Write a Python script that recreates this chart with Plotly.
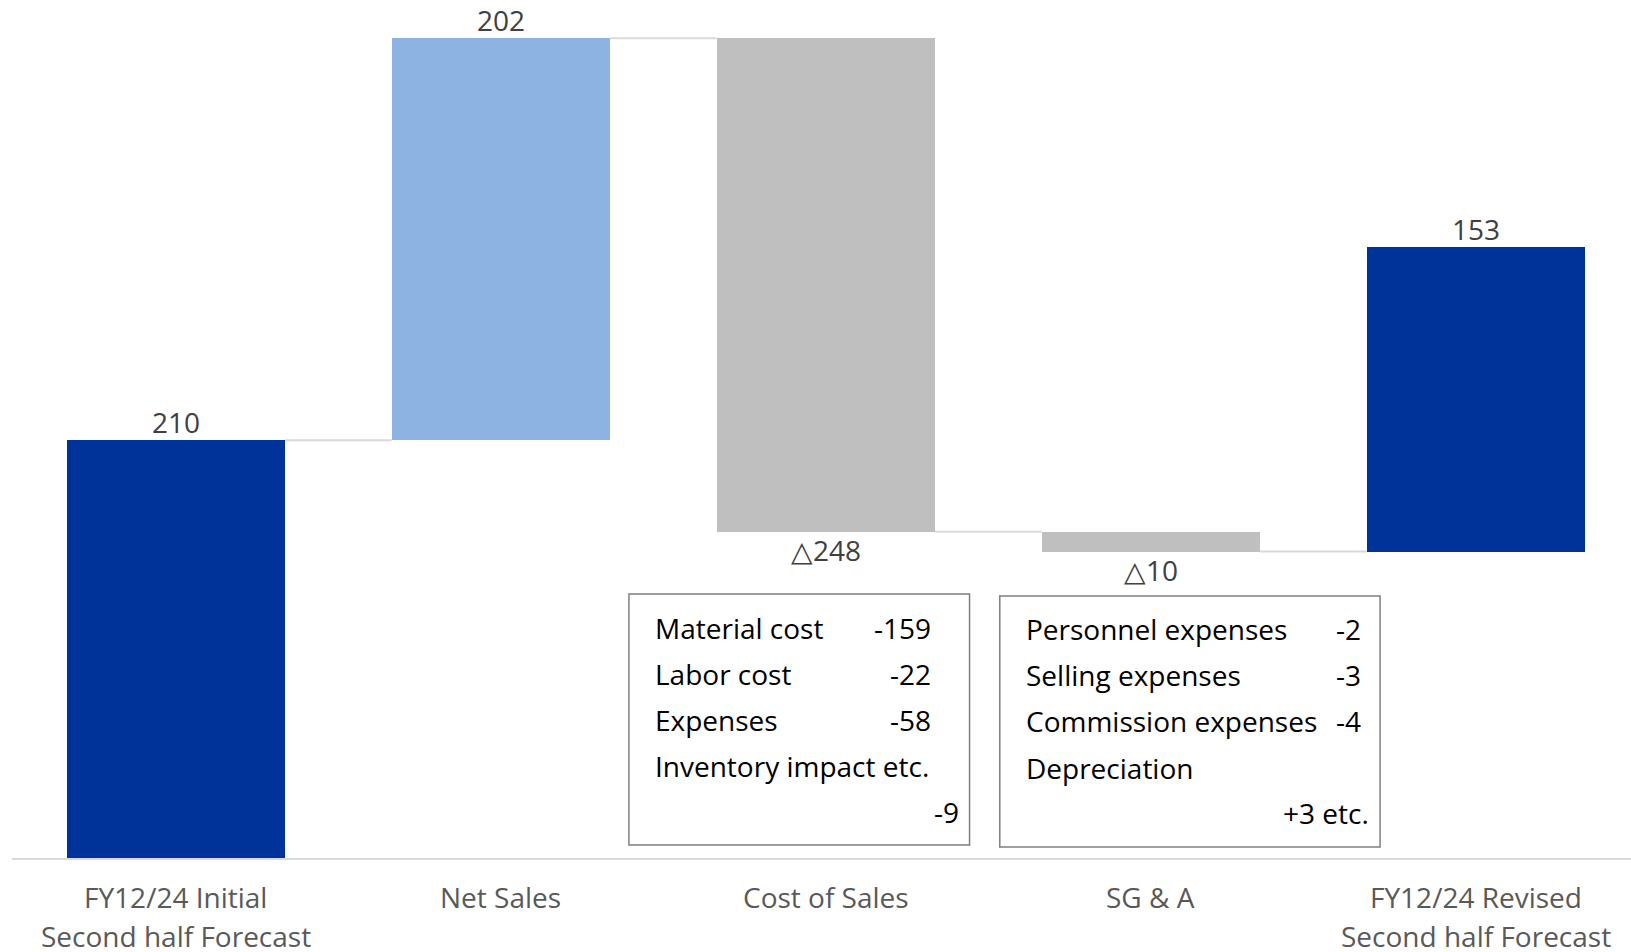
import plotly.graph_objects as go

# Waterfall data (JPY 100 million)
cat_line1 = ["FY12/24 Initial", "Net Sales", "Cost of Sales", "SG & A", "FY12/24 Revised"]
cat_line2 = ["Second half Forecast", "", "", "", "Second half Forecast"]
measures = ["absolute", "relative", "relative", "relative", "relative"]
values = [210, 202, -248, -10, 153]
bar_colors = ["#003399", "#8DB3E2", "#BFBFBF", "#BFBFBF", "#003399"]

# breakdown boxes
cos_items = ["Material cost", "Labor cost", "Expenses", "Inventory impact etc."]
cos_values = ["-159", "-22", "-58", "-9"]
sga_items = ["Personnel expenses", "Selling expenses", "Commission expenses", "Depreciation"]
sga_values = ["-2", "-3", "-4", "+3 etc."]

FONT = "Open Sans, Segoe UI, sans-serif"
FS = 28
bar_w = 0.672

# running totals -> bases
bases, ends = [], []
total = 0
for m, v in zip(measures, values):
    base = 0 if m == "absolute" else total
    bases.append(base)
    total = base + v
    ends.append(total)

labels = [f"△{abs(v)}" if v < 0 else str(v) for v in values]
xs = list(range(len(values)))

fig = go.Figure()

# connectors
cx, cy = [], []
for i in range(len(xs) - 1):
    cx += [xs[i] + bar_w / 2, xs[i + 1] - bar_w / 2, None]
    cy += [ends[i], ends[i], None]
fig.add_trace(go.Scatter(x=cx, y=cy, mode="lines", line=dict(color="#D9D9D9", width=2),
                         hoverinfo="skip", showlegend=False))

fig.add_trace(go.Bar(
    x=xs, y=values, base=bases, width=bar_w,
    marker=dict(color=bar_colors, line=dict(width=0)),
    showlegend=False,
))

# data labels just beyond the end of each bar
for i in xs:
    fig.add_annotation(x=i, y=ends[i], text=labels[i], showarrow=False, yanchor="middle",
                       yshift=18.5 if values[i] > 0 else -18.5,
                       font=dict(family=FONT, size=FS, color="#404040"))

# category labels (two lines, Excel-like spacing)
for i in xs:
    fig.add_annotation(x=i, xref="x", y=-0.0455, yref="paper", text=cat_line1[i],
                       showarrow=False, yanchor="middle",
                       font=dict(family=FONT, size=FS, color="#595959"))
    if cat_line2[i]:
        fig.add_annotation(x=i, xref="x", y=-0.0909, yref="paper", text=cat_line2[i],
                           showarrow=False, yanchor="middle",
                           font=dict(family=FONT, size=FS, color="#595959"))

# breakdown boxes (data coords)
boxes = [
    dict(x0=1.394, x1=2.442, y0=6.5, y1=132.7, lx=1.468, rx=2.330, lastx=2.416,
         ys=[115.4, 92.5, 69.5, 46.0, 23.0], items=cos_items, vals=cos_values),
    dict(x0=2.535, x1=3.705, y0=5.5, y1=131.7, lx=2.608, rx=3.652, lastx=3.678,
         ys=[114.9, 92.0, 68.9, 45.4, 22.4], items=sga_items, vals=sga_values),
]
for b in boxes:
    fig.add_shape(type="rect", xref="x", yref="y", x0=b["x0"], x1=b["x1"], y0=b["y0"], y1=b["y1"],
                  line=dict(color="#7F7F7F", width=1.5), fillcolor="rgba(0,0,0,0)")
    for j, item in enumerate(b["items"]):
        fig.add_annotation(x=b["lx"], y=b["ys"][j], text=item, showarrow=False,
                           xanchor="left", yanchor="middle",
                           font=dict(family=FONT, size=FS, color="#000000"))
    for j, val in enumerate(b["vals"][:-1]):
        fig.add_annotation(x=b["rx"], y=b["ys"][j], text=val, showarrow=False,
                           xanchor="right", yanchor="middle",
                           font=dict(family=FONT, size=FS, color="#000000"))
    fig.add_annotation(x=b["lastx"], y=b["ys"][4], text=b["vals"][-1], showarrow=False,
                       xanchor="right", yanchor="middle",
                       font=dict(family=FONT, size=FS, color="#000000"))

fig.update_layout(
    width=1631, height=952,
    margin=dict(l=12, r=0, t=0, b=94),
    plot_bgcolor="white", paper_bgcolor="white",
    bargap=0,
    xaxis=dict(range=[-0.504, 4.477], showticklabels=False,
               showgrid=False, zeroline=False, showline=True, linecolor="#D9D9D9", linewidth=2,
               ticks=""),
    yaxis=dict(range=[0, 431.2], visible=False, showgrid=False, zeroline=False),
)

fig.write_html("out.html", config={"displayModeBar": False},
               post_script="document.body.style.margin='0';")
